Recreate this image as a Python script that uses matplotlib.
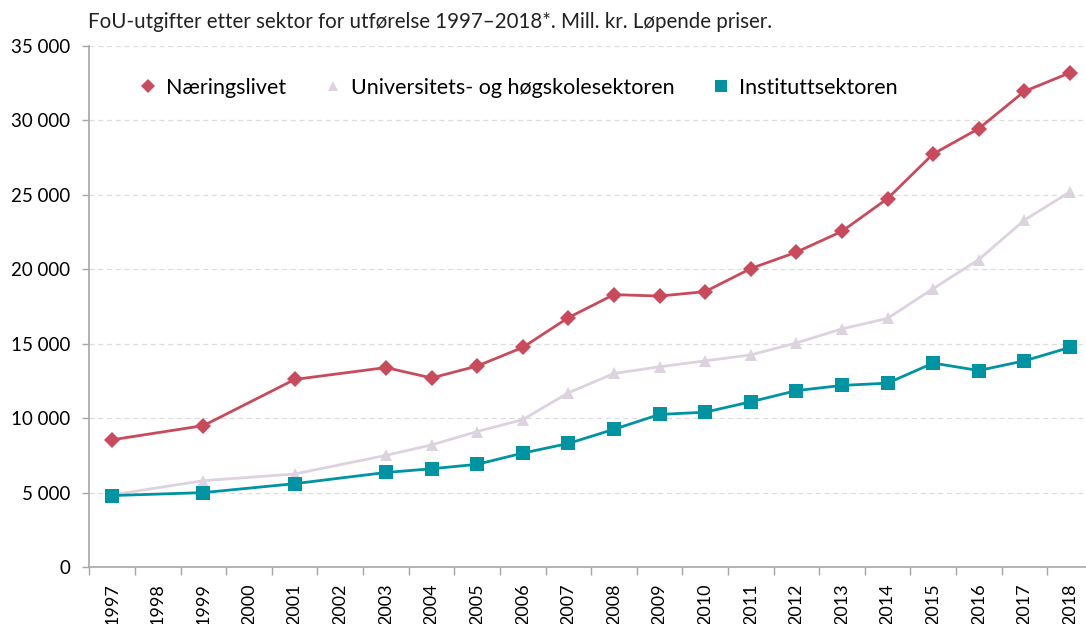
import matplotlib

matplotlib.use("Agg")
import matplotlib.pyplot as plt  # noqa: E402
from matplotlib.lines import Line2D  # noqa: E402
from matplotlib.ticker import FuncFormatter, MultipleLocator  # noqa: E402

plt.rcParams["font.family"] = ["Lato", "DejaVu Sans"]

# --- data (mill. kr, current prices) ---
years = [1997, 1999, 2001, 2003, 2004, 2005, 2006, 2007, 2008, 2009,
         2010, 2011, 2012, 2013, 2014, 2015, 2016, 2017, 2018]
naeringslivet = [8550, 9500, 12600, 13400, 12700, 13500, 14750, 16750, 18300, 18200,
                 18500, 20050, 21150, 22550, 24750, 27750, 29450, 31950, 33200]
universitet = [4850, 5800, 6250, 7500, 8200, 9100, 9900, 11700, 13000, 13450,
               13850, 14250, 15050, 16000, 16700, 18700, 20650, 23300, 25200]
institutt = [4800, 5000, 5600, 6350, 6600, 6900, 7650, 8300, 9250, 10250,
             10400, 11100, 11850, 12200, 12350, 13700, 13200, 13850, 14750]
tick_years = list(range(1997, 2019))

series = [
    ("Næringslivet", naeringslivet, "#C94B5B", "D", 8),
    ("Universitets- og høgskolesektoren", universitet, "#DDD2E0", "^", 9),
    ("Instituttsektoren", institutt, "#0093A1", "s", 9.5),
]

AXIS_GREY = "#A6A6A6"

fig = plt.figure(figsize=(10.86, 6.24), dpi=100)
ax = fig.add_axes([0.0824, 0.0913, 0.9238, 0.835])

handles = []
for label, vals, color, marker, ms in series:
    ax.plot(years, vals, color=color, lw=2.0, marker=marker, markersize=ms,
            markeredgewidth=0, zorder=3)
    handles.append(Line2D([], [], color=color, marker=marker, linestyle="none",
                          markersize=ms * 0.85, markeredgewidth=0, label=label))

ax.set_xlim(1996.5, 2018.5)
ax.set_ylim(0, 35000)
ax.yaxis.set_major_locator(MultipleLocator(5000))
ax.yaxis.set_major_formatter(FuncFormatter(lambda v, _: f"{int(v):,}".replace(",", " ")))
ax.set_xticks(tick_years)
ax.set_xticklabels([str(y) for y in tick_years], rotation=90)
ax.set_xticks([y - 0.5 for y in tick_years] + [2018.5], minor=True)
ax.tick_params(axis="x", which="major", length=0, pad=11.5, labelsize=13)
ax.tick_params(axis="x", which="minor", length=6, color=AXIS_GREY, width=1)
ax.tick_params(axis="y", length=5, color=AXIS_GREY, width=1, labelsize=13.5, pad=9)

ax.grid(axis="y", color="#DDDDDD", linestyle=(0, (4, 3)), lw=0.9)
ax.set_axisbelow(True)
for side in ("top", "right"):
    ax.spines[side].set_visible(False)
for side in ("left", "bottom"):
    ax.spines[side].set_color(AXIS_GREY)
    ax.spines[side].set_linewidth(1.2)

ax.legend(handles=handles, loc="center left", bbox_to_anchor=(0.1285, 0.859),
          bbox_transform=fig.transFigure, ncol=3, frameon=False, fontsize=15.5,
          handlelength=0.8, handletextpad=0.45, columnspacing=1.75,
          borderaxespad=0, borderpad=0)

fig.text(0.081, 0.965, "FoU-utgifter etter sektor for utførelse 1997–2018*. Mill. kr. Løpende priser.",
         fontsize=14.8, ha="left", va="center", color="#222222")

fig.savefig("out.png", dpi=100, facecolor="white")
